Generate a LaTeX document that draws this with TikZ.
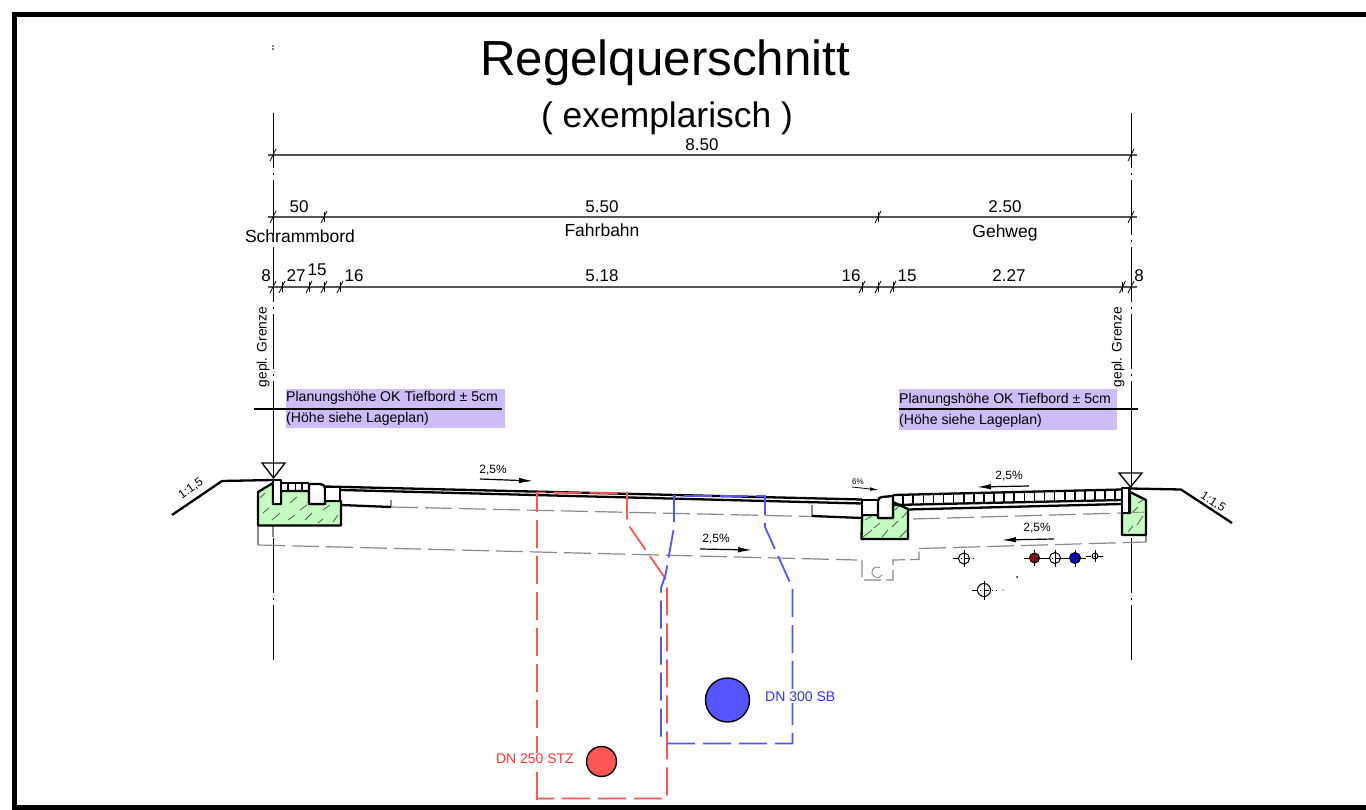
\documentclass[tikz,border=0pt]{standalone}
\usepackage{fontspec}
\setmainfont{Liberation Sans}
\usepackage{tikz}
\usetikzlibrary{arrows.meta}
\definecolor{curbgreen}{HTML}{C4FBC0}
\definecolor{planlila}{HTML}{CDBDF6}
\definecolor{stzred}{HTML}{FF5555}
\definecolor{sbblue}{HTML}{5555FF}
\definecolor{labred}{HTML}{FF3333}
\definecolor{labblue}{HTML}{3333FF}
\definecolor{dimgray}{HTML}{555555}
\definecolor{oldgray}{HTML}{8A8A8A}
\definecolor{pipered}{HTML}{A50F14}
\newcommand{\fsz}[1]{\fontsize{#1}{#1}\selectfont}
\tikzset{>={Latex[length=14pt,width=5.5pt]},
         dimline/.style={draw=dimgray,line width=1.2pt},
         dimtick/.style={draw=black,line width=.8pt},
         dimtext/.style={inner sep=0pt,font=\fsz{17}},
         labeltext/.style={inner sep=0pt,font=\fsz{17.5}},
         grenze/.style={line width=1pt,dash pattern=on 55pt off 5pt on 2pt off 5pt},
         thickline/.style={line width=2.3pt,line join=round},
         curb/.style={thickline,fill=curbgreen},
         stone/.style={thickline,fill=white},
         oldline/.style={draw=oldgray,line width=1.2pt,dash pattern=on 27pt off 7pt},
         oldedge/.style={draw=oldgray,line width=1.2pt},
         hatch/.style={draw=black!65,line width=.8pt},
         stzline/.style={draw=stzred,line width=1.8pt,dash pattern=on 28pt off 8pt},
         sbline/.style={draw=sbblue,line width=1.8pt,dash pattern=on 28pt off 8pt},
         pipe/.style={circle,draw=black,line width=1.4pt,inner sep=0pt},
         cable/.style={circle,draw=black,line width=1pt,inner sep=0pt,fill=white},
         planbox/.style={fill=planlila,draw=none},
         plantext/.style={anchor=west,inner sep=0pt,font=\fsz{14.1}},
         slope/.style={inner sep=0pt,font=\fsz{12}},
         arrowline/.style={->,line width=1.2pt},
         gepl/.style={rotate=90,inner sep=0pt,font=\fsz{13.8}},
         dnlabel/.style={inner sep=1pt,fill=white,font=\fsz{14}}}
\begin{document}
\begin{tikzpicture}[x=1pt,y=-1pt]
	\useasboundingbox (0,0) rectangle (1366,810);
	\draw[line width=5pt] (1372,14.5) -- (14.5,14.5) -- (14.5,807.5) -- (1372,807.5);

	\node[inner sep=0pt,font=\fsz{49.3}] (title) at (665,63) {Regelquerschnitt};
	\node[inner sep=0pt,font=\fsz{35.4}] (subtitle) at (667,118) {( exemplarisch )};
	\fill (273,46) circle (.8pt) (273,49) circle (.8pt);

	\foreach \bx in {273,1131}{
		\draw[grenze] (\bx,113) -- (\bx,390);
		\draw[line width=1pt] (\bx,390) -- (\bx,478);
		\draw[grenze] (\bx,538) -- (\bx,661);
	}
	\draw[oldedge] (273,504) -- (273,537);

	\foreach \y in {155,217,287}
		\draw[dimline] (268,\y) -- (1137,\y);
	\foreach \y/\xlist in {155/{273,1131},217/{273,324,878,1131},287/{273,282,309,324,340,862,878,893,1122.5,1131}}
		\foreach \x in \xlist{
			\draw[dimtick] (\x-3,\y+6) -- (\x+3,\y-6);
			\draw[dimtick] (\x,\y-5) -- (\x,\y+5);
		}

	\node[dimtext] (d850) at (702,145) {8.50};
	\node[dimtext] (d50) at (299,207) {50};
	\node[dimtext] (d550) at (602,207) {5.50};
	\node[dimtext] (d250) at (1005,207) {2.50};
	\node[labeltext] (schramm) at (300,236) {Schrammbord};
	\node[labeltext] (fahrbahn) at (602,230) {Fahrbahn};
	\node[labeltext] (gehweg) at (1005,233) {Gehweg};
	\node[dimtext] (l8) at (266,276) {8};
	\node[dimtext] (l27) at (296,276) {27};
	\node[dimtext] (l15) at (317,270) {15};
	\node[dimtext] (l16) at (354,276) {16};
	\node[dimtext] (m518) at (602,276) {5.18};
	\node[dimtext] (r16) at (851,276) {16};
	\node[dimtext] (r15) at (907,276) {15};
	\node[dimtext] (r227) at (1009,276) {2.27};
	\node[dimtext] (r8) at (1139,276) {8};

	\node[gepl] (geplL) at (263,347) {gepl. Grenze};
	\node[gepl] (geplR) at (1118,347) {gepl. Grenze};

	\fill[planbox] (286,389) rectangle (505,428);
	\fill[planbox] (899,389) rectangle (1117,430);
	\node[plantext] (planL) at (286,398) {Planungshöhe OK Tiefbord ± 5cm};
	\node[plantext] (hoeheL) at (286,419) {(Höhe siehe Lageplan)};
	\node[plantext] (planR) at (899,399.5) {Planungshöhe OK Tiefbord ± 5cm};
	\node[plantext] (hoeheR) at (899,421) {(Höhe siehe Lageplan)};
	\draw[line width=1.3pt] (254,409) -- (502,409);
	\draw[line width=1.3pt] (899,409) -- (1138,409);

	\draw[oldedge] (391,500) -- (391,507);
	\draw[oldedge] (812,505) -- (812,516);
	\draw[oldline] (391,507) -- (812,516.5);
	\draw[oldline] (913,519) -- (1122,513);
	\draw[oldedge] (258,525) -- (258,545);
	\draw[oldline] (258,545) -- (857,560);
	\draw[oldline,dash pattern=on 17pt off 5pt] (862,560) -- (862,580) -- (893,580) -- (893,560) -- (919,559.5) -- (919,548.5);
	\draw[oldline] (919,548.5) -- (1146,542);
	\draw[oldedge] (1146,542) -- (1146,535);
	\draw[oldedge,line width=.9pt] (880,567.5) arc (-60:-330:5.5);

	\draw[curb] (258,492) -- (273,483) -- (273,504) -- (281,504) -- (281,491) -- (309,491) -- (309,504) -- (325,504) -- (325,501) -- (341,501) -- (341,525.5) -- (258,525.5) -- cycle;
	\foreach \a/\b/\c/\d in {260/498/265/493,263/513/269/508,272/520/280/513,288/520/295/515,290/503/297/497,305/520/312/513,300/510/307/505,318/523/323/519,323/510/330/505,333/522/338/515}
		\draw[hatch] (\a,\b) -- (\c,\d);
	\draw[stone] (273,480) rectangle (281,504);
	\draw[thickline] (281,483) -- (309,483);
	\foreach \x in {288,295.5,302}
		\draw[thickline,line width=1.6pt] (\x,483) -- (\x,491);
	\draw[stone] (309,504) -- (309,484) -- (320,484) .. controls (323,484) and (325,486) .. (325,488) -- (325,504) -- cycle;
	\draw[stone] (325,487) rectangle (340,501);
	\draw[thickline] (325,486.5) -- (862,499.5);
	\draw[thickline] (341,490) -- (862,503.5);
	\draw[thickline] (341,505) -- (391,507);
	\draw[thickline] (812,516) -- (862,518);

	\draw[curb] (862,515) -- (878,515) -- (878,518) -- (893,518) -- (893,502) -- (908,509) -- (908,539) -- (861.5,539) -- cycle;
	\foreach \a/\b/\c/\d in {863/537/872/530,874/528/880/523,865/520/872/516,882/537/888/530,892/527/898/521,900/537/907/530,902/518/907/512,895/510/900/505}
		\draw[hatch] (\a,\b) -- (\c,\d);
	\draw[stone] (862,500) rectangle (878,515);
	\draw[stone] (878,518) -- (878,501) .. controls (878,498.5) and (880,497) .. (882,497) -- (893,496) -- (893,518) -- cycle;
	\draw[thickline] (893,495) -- (1122,489.5);
	\draw[thickline] (893,505) -- (1122,500);
	\draw[thickline] (908,509.5) -- (1122,504);
	\foreach \n in {1,...,22}
		\draw[thickline,line width=1.6pt] ({893+\n*10.1},{495-\n*.243}) -- ({893+\n*10.1},{505-\n*.22});

	\draw[curb] (1130,492) -- (1146,500) -- (1146,535) -- (1122,535) -- (1122,513) -- (1130,513) -- cycle;
	\foreach \a/\b/\c/\d in {1128/532/1133/526,1137/525/1143/516,1132/513/1138/507,1138/503/1143/500}
		\draw[hatch] (\a,\b) -- (\c,\d);
	\draw[oldedge,line width=.8pt] (1122,513) -- (1146,512);
	\draw[stone] (1122,488) rectangle (1129.5,513);

	\draw[thickline] (172,515) -- (222,481) -- (273,480);
	\draw[thickline] (1130,488.5) -- (1181,489.5) -- (1232,523);
	\draw[line width=1.3pt,fill=white] (262,463) -- (285,463) -- (273.5,478) -- cycle;
	\draw[line width=1.3pt,fill=white] (1119,473) -- (1142,473) -- (1130.5,487) -- cycle;
	\draw[line width=1pt] (273,463) -- (273,478);
	\draw[line width=1pt] (1131,463) -- (1131,487);

	\node[slope,rotate=35] (neigL) at (191,489) {1:1,5};
	\node[slope,rotate=-33] (neigR) at (1213,502) {1:1,5};
	\node[slope] (q1) at (493,470) {2,5\%};
	\draw[arrowline] (480,479) -- (533,481);
	\node[slope,font=\fsz{8}] (q2) at (858,482) {6\%};
	\draw[arrowline,line width=.8pt,>={Latex[length=9pt,width=3.5pt]}] (852,487) -- (879,490);
	\node[slope] (q3) at (1009,476) {2,5\%};
	\draw[arrowline] (1029,486) -- (977,487);
	\node[slope] (q4) at (1037,528) {2,5\%};
	\draw[arrowline] (1054,539) -- (1002,540);
	\node[slope] (q5) at (716,539) {2,5\%};
	\draw[arrowline] (700,549) -- (752,550);

	\draw[stzline] (537,800) -- (537,492.5) -- (627,493) -- (627,523) -- (665,578) -- (667,586) -- (667,798.5) -- (537,798.5);
	\draw[sbline] (667,743.5) -- (792.5,743.5) -- (792.5,588) -- (765,527) -- (765,496) -- (674,496) -- (674,527) -- (665.5,575) -- (661,588) -- (661,743.5);

	\node[pipe,minimum size=44pt,fill=sbblue] (sb) at (727.5,700) {};
	\node[pipe,minimum size=30pt,fill=stzred] (stz) at (601.5,761.5) {};
	\node[dnlabel,anchor=west,text=labblue] (sblabel) at (764,697) {DN 300 SB};
	\node[dnlabel,anchor=east,text=labred] (stzlabel) at (575,759) {DN 250 STZ};

	\draw[line width=.9pt] (1026,558) -- (1086,558);
	\foreach \name/\cx/\cy/\d/\col in {c1/964/558.5/11/white,c2/984/590/13/white,c3/1034.5/558/10/pipered,c4/1055/558/11/white,c5/1075/558/11/blue,c6/1095/556/6/white}{
		\node[cable,minimum size=\d pt,fill=\col] (\name) at (\cx,\cy) {};
		\draw[line width=.7pt] (\cx,\cy-\d/2-3) -- (\cx,\cy+\d/2+3);
		\draw[line width=.7pt,dash pattern=on 5pt off 3pt on 1pt off 3pt] (\cx-\d/2-6,\cy) -- (\cx+\d/2+6,\cy);
	}
	\fill (1017,577) circle (1pt);
	\fill (1003,590) circle (.7pt);
\end{tikzpicture}
\end{document}
